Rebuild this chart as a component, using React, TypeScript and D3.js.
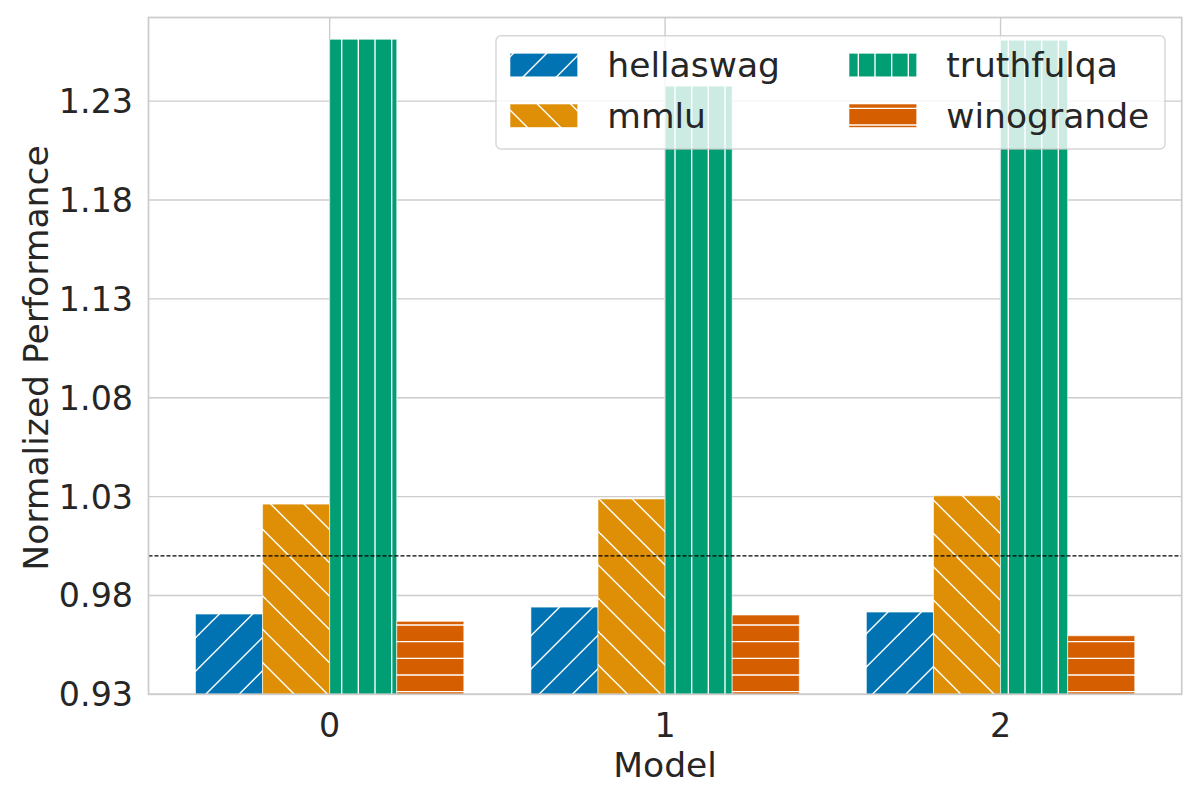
import React, { useEffect } from 'react';
import * as d3 from 'd3';

const models = [0, 1, 2];
const seriesNames = ['hellaswag', 'mmlu', 'truthfulqa', 'winogrande'];
const hellaswag = [0.9706, 0.9741, 0.9716];
const mmlu = [1.0262, 1.0288, 1.0304];
const truthfulqa = [1.2613, 1.2376, 1.2608];
const winogrande = [0.9669, 0.9701, 0.9596];
const yTicks = [0.93, 0.98, 1.03, 1.08, 1.13, 1.18, 1.23];
const baseline = 1.0;

const colors = ['#0173B2', '#DE8F05', '#029E73', '#D55E00'];
const hatchIds = ['hatch-ne', 'hatch-nw', 'hatch-v', 'hatch-h'];

const W = 1200;
const H = 800;
const left = 148.5;
const right = 1181.7;
const top = 17.5;
const bottom = 694.3;
const font = 'DejaVu Sans, sans-serif';
const textColor = '#262626';
const fs = 34.5;
const tickFs = 33.3;

function Hatches() {
  const step = 100 / 3; // diagonal line spacing along x
  const lineStep = 100 / 6;
  const sw = 1.39;
  const diag = d3.range(-3, 4);
  const straight = d3.range(6);
  return (
    <defs>
      {colors.map((c, k) => (
        <pattern key={k} id={hatchIds[k]} patternUnits="userSpaceOnUse" width={100} height={100}>
          <rect width={100} height={100} fill={c} />
          {k === 0 && diag.map(i => (
            <line key={i} x1={i * step} y1={100} x2={i * step + 100} y2={0} stroke="#fff" strokeWidth={sw} />
          ))}
          {k === 1 && diag.map(i => (
            <line key={i} x1={i * step} y1={0} x2={i * step + 100} y2={100} stroke="#fff" strokeWidth={sw} />
          ))}
          {k === 2 && straight.map(i => (
            <line key={i} x1={lineStep / 2 + i * lineStep} y1={0} x2={lineStep / 2 + i * lineStep} y2={100} stroke="#fff" strokeWidth={sw} />
          ))}
          {k === 3 && straight.map(i => (
            <line key={i} x1={0} y1={lineStep / 2 + i * lineStep} x2={100} y2={lineStep / 2 + i * lineStep} stroke="#fff" strokeWidth={sw} />
          ))}
        </pattern>
      ))}
    </defs>
  );
}

export default function App() {
  useEffect(() => {
    document.body.style.margin = '0';
  }, []);

  const x = d3.scaleLinear().domain([-0.54, 2.54]).range([left, right]);
  const y = d3.scaleLinear().domain([0.93, 1.2723]).range([bottom, top]);
  const series = [hellaswag, mmlu, truthfulqa, winogrande];
  const barW = 0.2;

  // legend layout
  const lgX = 496, lgY = 35.7, lgW = 669, lgH = 113.3;
  const colX = [510, 849];
  const rowY = [53.3, 104];

  return (
    <svg width={W} height={H} style={{ display: 'block', fontFamily: font }}>
      <Hatches />
      <rect width={W} height={H} fill="#fff" />

      {/* grid */}
      {yTicks.map(t => (
        <line key={t} x1={left} x2={right} y1={y(t)} y2={y(t)} stroke="#cccccc" strokeWidth={1.39} />
      ))}
      {models.map(m => (
        <line key={m} x1={x(m)} x2={x(m)} y1={top} y2={bottom} stroke="#cccccc" strokeWidth={1.39} />
      ))}

      {/* bars */}
      {series.map((vals, k) =>
        vals.map((v, i) => {
          const x0 = x(models[i] + (k - 2) * barW);
          const x1 = x(models[i] + (k - 1) * barW);
          return (
            <rect key={`${k}-${i}`} x={x0} y={y(v)} width={x1 - x0} height={y(0.93) - y(v)}
              fill={`url(#${hatchIds[k]})`} stroke="#fff" strokeOpacity={0.6} strokeWidth={1} />
          );
        })
      )}

      {/* reference line */}
      <line x1={left} x2={right} y1={y(baseline)} y2={y(baseline)} stroke="#000" strokeWidth={1.1} strokeDasharray="4,2" />

      {/* spines */}
      <rect x={left} y={top} width={right - left} height={bottom - top} fill="none" stroke="#cccccc" strokeWidth={1.74} />

      {/* y ticks */}
      {yTicks.map(t => (
        <text key={t} x={133} y={y(t)} dy="0.36em" textAnchor="end" fontSize={tickFs} fill={textColor}>
          {t.toFixed(2)}
        </text>
      ))}
      {/* x ticks */}
      {models.map(m => (
        <text key={m} x={x(m)} y={736.5} textAnchor="middle" fontSize={tickFs} fill={textColor}>{m}</text>
      ))}

      <text x={(left + right) / 2} y={776.5} textAnchor="middle" fontSize={fs} fill={textColor}>Model</text>
      <text transform={`translate(47.5,358) rotate(-90)`} textAnchor="middle" fontSize={fs} fill={textColor}>
        Normalized Performance
      </text>

      {/* legend */}
      <rect x={lgX} y={lgY} width={lgW} height={lgH} rx={5} fill="#fff" fillOpacity={0.8} stroke="#cccccc" strokeOpacity={0.8} strokeWidth={1.39} />
      {seriesNames.map((name, k) => {
        const col = Math.floor(k / 2);
        const row = k % 2;
        const hx = colX[col];
        const hy = rowY[row];
        return (
          <g key={name}>
            <rect x={hx} y={hy} width={67.7} height={23.5} fill={`url(#${hatchIds[k]})`} stroke="#fff" strokeOpacity={0.6} strokeWidth={1} />
            <text x={hx + 97.3} y={hy + 11.7} dy="0.36em" fontSize={fs} fill={textColor}>{name}</text>
          </g>
        );
      })}
    </svg>
  );
}
